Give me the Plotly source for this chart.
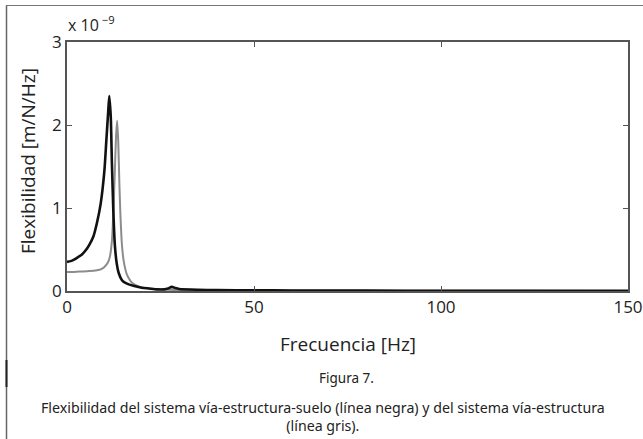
import plotly.graph_objects as go

# Frequency [Hz] and flexibility [x 1e-9 m/N/Hz]
freq_black = [0, 1, 2, 3, 4, 5, 6, 7, 8, 9, 10, 10.5, 11, 11.3, 11.7, 12, 12.4, 12.8, 13.3, 13.8, 14.7,
              15.5, 16.5, 18, 20, 22, 24, 26, 27, 28, 29, 30, 35, 40, 50, 60, 80, 100, 125, 150]
flex_black = [0.35, 0.36, 0.38, 0.41, 0.44, 0.49, 0.56, 0.65, 0.82, 1.05, 1.45, 1.8, 2.15, 2.35, 2.1, 1.55,
              0.95, 0.55, 0.33, 0.22, 0.13, 0.10, 0.08, 0.06, 0.04, 0.03, 0.02, 0.02, 0.03, 0.05, 0.035,
              0.025, 0.015, 0.01, 0.008, 0.006, 0.004, 0.003, 0.002, 0.002]

freq_gray = [0, 2, 4, 6, 8, 9, 10, 11, 11.5, 12, 12.4, 12.8, 13.1, 13.4, 13.7, 14.0, 14.3, 14.7, 15.2,
             16, 17, 18, 19.5, 22, 25, 30, 40, 60, 100, 150]
flex_gray = [0.23, 0.23, 0.235, 0.24, 0.25, 0.26, 0.29, 0.35, 0.42, 0.6, 0.95, 1.45, 1.85, 2.05, 1.8, 1.3,
             0.9, 0.55, 0.35, 0.2, 0.12, 0.08, 0.05, 0.03, 0.02, 0.01, 0.006, 0.004, 0.002, 0.001]

x_ticks = [0, 50, 100, 150]
y_ticks = [0, 1, 2, 3]

fig = go.Figure()
fig.add_trace(go.Scatter(x=freq_gray, y=flex_gray, mode="lines",
                         line=dict(color="#8c8c8c", width=2, shape="spline", smoothing=0.6),
                         showlegend=False))
fig.add_trace(go.Scatter(x=freq_black, y=flex_black, mode="lines",
                         line=dict(color="#111111", width=2.6, shape="spline", smoothing=0.6),
                         showlegend=False))

L, R, T, B = 67, 15, 42, 148
W, H = 643, 439
pw, ph = W - L - R, H - T - B

def px(xp):
    return (xp - L) / pw

def py(yp):
    return (H - B - yp) / ph

font_chart = "Open Sans"
axis_common = dict(showline=True, linecolor="#555555", linewidth=1.5, mirror="ticks",
                   ticks="inside", ticklen=5, tickcolor="#555555", showgrid=False, zeroline=False,
                   automargin=False,
                   tickfont=dict(family=font_chart, size=17, color="#222222"))

fig.update_layout(
    width=W, height=H,
    margin=dict(l=L, r=R, t=T, b=B, autoexpand=False),
    paper_bgcolor="white", plot_bgcolor="white",
    xaxis=dict(range=[0, 150], tickvals=x_ticks, ticktext=[str(v) for v in x_ticks], **axis_common),
    yaxis=dict(range=[0, 3], tickvals=y_ticks, ticktext=[str(v) for v in y_ticks], **axis_common),
    shapes=[
        dict(type="line", xref="paper", yref="paper", x0=px(6), x1=px(643), y0=py(5.5), y1=py(5.5),
             line=dict(color="#777777", width=1.2)),
        dict(type="line", xref="paper", yref="paper", x0=px(6.5), x1=px(6.5), y0=py(5.5), y1=py(439),
             line=dict(color="#666666", width=1.5)),
        dict(type="line", xref="paper", yref="paper", x0=px(6.5), x1=px(6.5), y0=py(360), y1=py(387),
             line=dict(color="#222222", width=2)),
    ],
    annotations=[
        dict(text="x 10<sup> −9</sup>", xref="paper", yref="paper", x=px(66), y=py(24),
             xanchor="left", yanchor="middle", showarrow=False,
             font=dict(family=font_chart, size=16, color="#222222")),
        dict(text="Flexibilidad [m/N/Hz]", xref="paper", yref="paper", x=px(28), y=py(161),
             xanchor="center", yanchor="middle", textangle=-90, showarrow=False,
             font=dict(family=font_chart, size=19, color="#222222")),
        dict(text="Frecuencia [Hz]", xref="paper", yref="paper", x=px(348), y=py(344),
             xanchor="center", yanchor="middle", showarrow=False,
             font=dict(family=font_chart, size=19, color="#222222")),
        dict(text="Figura 7.", xref="paper", yref="paper", x=px(346), y=py(378),
             xanchor="center", yanchor="middle", showarrow=False,
             font=dict(family="Noto Sans", size=13.5, color="#222222")),
        dict(text="Flexibilidad del sistema vía-estructura-suelo (línea negra) y del sistema vía-estructura<br>(línea gris).",
             xref="paper", yref="paper", x=px(323), y=py(416),
             xanchor="center", yanchor="middle", showarrow=False, align="center",
             font=dict(family="Noto Sans", size=14.2, color="#222222")),
    ],
)

fig.write_html("out.html")
